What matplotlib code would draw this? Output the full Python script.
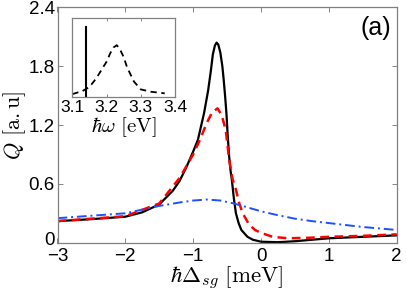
import numpy as np
import matplotlib
matplotlib.use('Agg')
import matplotlib.pyplot as plt
from matplotlib.transforms import ScaledTranslation

plt.rcParams['font.family'] = ['Liberation Sans', 'DejaVu Sans']
plt.rcParams['mathtext.fontset'] = 'cm'

# main panel: Q versus detuning (meV)
x_black = [-3.0, -2.5, -2.0, -1.75, -1.5, -1.4, -1.3, -1.2, -1.1, -1.0, -0.93,
           -0.84, -0.78, -0.74, -0.71, -0.68, -0.655, -0.63, -0.60, -0.57,
           -0.55, -0.53, -0.51, -0.49, -0.47, -0.45, -0.43,
           -0.40, -0.37, -0.33, -0.29, -0.2, -0.12, 0.0, 0.25, 0.5, 1.0, 1.5, 2.0]
q_black = [0.22, 0.24, 0.265, 0.31, 0.39, 0.46, 0.53, 0.63, 0.77, 0.93, 1.05,
           1.32, 1.55, 1.75, 1.92, 2.01, 2.04, 2.02, 1.94, 1.80,
           1.66, 1.50, 1.32, 1.08, 0.88, 0.74, 0.64,
           0.45, 0.30, 0.20, 0.13, 0.06, 0.03, 0.01, 0.005, 0.015, 0.045, 0.06, 0.075]

x_red = [-3.0, -2.5, -2.0, -1.5, -1.2, -1.0, -0.9, -0.8, -0.72, -0.64, -0.58,
         -0.52, -0.47, -0.42, -0.37, -0.32, -0.27, -0.18, -0.09, 0.0, 0.17,
         0.4, 0.7, 1.0, 1.5, 2.0]
q_red = [0.22, 0.245, 0.27, 0.40, 0.66, 0.90, 1.05, 1.22, 1.33, 1.37, 1.30,
         1.15, 0.85, 0.65, 0.54, 0.40, 0.30, 0.19, 0.13, 0.10, 0.06,
         0.045, 0.05, 0.06, 0.07, 0.085]

x_blue = [-3.0, -2.5, -2.0, -1.5, -1.2, -1.0, -0.8, -0.6, -0.4, -0.2, 0.0,
          0.25, 0.5, 0.75, 1.0, 1.5, 2.0]
q_blue = [0.25, 0.275, 0.30, 0.375, 0.41, 0.43, 0.44, 0.43, 0.40, 0.36, 0.32,
          0.28, 0.245, 0.22, 0.20, 0.16, 0.13]

# inset: spectrum versus photon energy (eV)
w_inset = [3.10, 3.13, 3.15, 3.17, 3.19, 3.20, 3.21, 3.22, 3.23, 3.24, 3.25,
           3.26, 3.28, 3.30, 3.33, 3.37]
s_inset = [0.04, 0.08, 0.13, 0.24, 0.38, 0.45, 0.55, 0.63, 0.66, 0.60, 0.51,
           0.38, 0.20, 0.10, 0.07, 0.05]
w_line = [3.14, 3.14]
s_line = [0.0, 0.89]

fig = plt.figure(figsize=(4.07, 2.94), dpi=100)
ax = fig.add_axes([57.5/407, 1-242.7/294, (396.7-57.5)/407, (242.7-7.3)/294])

ax.plot(x_black, q_black, '-', color='k', lw=1.6)
ax.plot(x_red, q_red, '--', color='r', lw=1.8, dashes=(3.5, 2.2))
ax.plot(x_blue, q_blue, '-.', color='#1f4fff', lw=1.4, dashes=(5, 2, 1, 2))

ax.set_xlim(-3, 2)
ax.set_ylim(0, 2.4)
ax.set_xticks([-3, -2, -1, 0, 1, 2])
ax.set_xticklabels(['\u22123', '\u22122', '\u22121', '0', '1', '2'])
ax.set_yticks([0, 0.6, 1.2, 1.8, 2.4])
ax.set_yticklabels(['0', '0.6', '1.2', '1.8', '2.4'])
ax.tick_params(direction='in', length=3.5, width=0.6, top=True, right=True,
               labelsize=13.5, colors='0.45', labelcolor='k', pad=2)
ax.tick_params(axis='x', pad=4)
for s in ax.spines.values():
    s.set_color('0.5')
    s.set_linewidth(0.9)
# nudge the bottom y label up a little so it clears the "-3"
lbl0 = ax.get_yticklabels()[0]
lbl0.set_transform(lbl0.get_transform() + ScaledTranslation(0, 3/72, fig.dpi_scale_trans))
ax.set_xlabel(r'$\hbar\Delta_{sg}\ \mathrm{[meV]}$', fontsize=16.5, labelpad=0)
ax.set_ylabel(r'$Q\ \mathrm{[a.u]}$', fontsize=16, labelpad=0)
ax.text(0.985, 0.965, '(a)', transform=ax.transAxes, ha='right', va='top',
        fontsize=18)

ins = fig.add_axes([72.3/407, 1-97.3/294, (175-72.3)/407, (97.3-18.3)/294])
ins.plot(w_inset, s_inset, '--', color='k', lw=1.3, dashes=(3.5, 2.5))
ins.plot(w_line, s_line, '-', color='k', lw=1.5)
ins.set_xlim(3.1, 3.4)
ins.set_ylim(0, 1)
ins.set_xticks([3.1, 3.2, 3.3, 3.4])
ins.set_xticklabels(['3.1', '3.2', '3.3', '3.4'])
ins.set_yticks([])
ins.tick_params(direction='in', length=2.5, width=0.6, top=True,
                labelsize=12.5, colors='0.45', labelcolor='k', pad=2)
for s in ins.spines.values():
    s.set_color('0.5')
    s.set_linewidth(0.9)
ins.set_xlabel(r'$\hbar\omega\ \mathrm{[eV]}$', fontsize=15, labelpad=0)

fig.savefig('out.png', dpi=100)
